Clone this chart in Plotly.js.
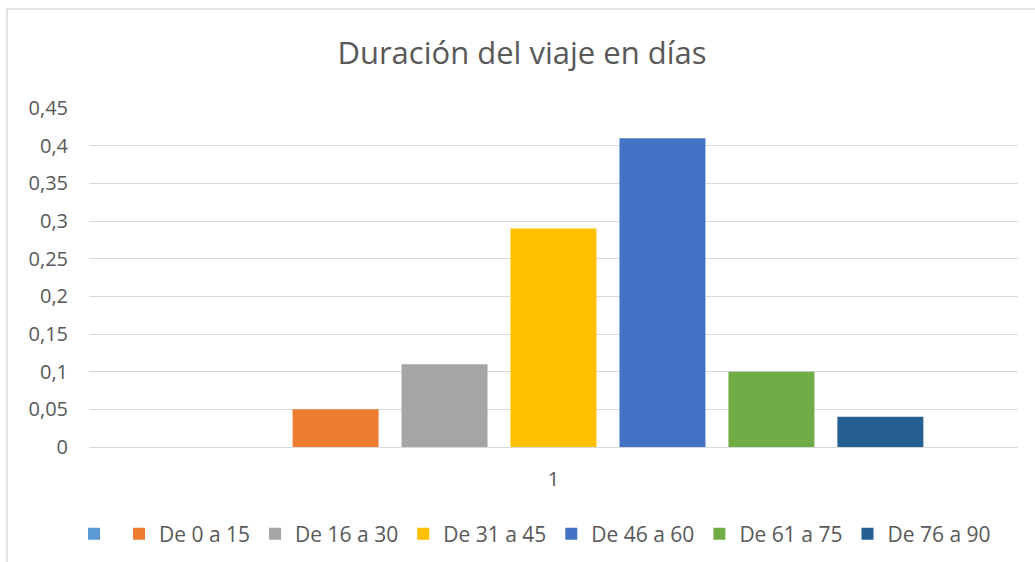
<!DOCTYPE html>
<html>
<head>
<meta charset="utf-8">
<script src="https://cdn.plot.ly/plotly-3.0.1.min.js"></script>
<style>html,body{margin:0;padding:0;background:#fff;}#chart{width:1035px;height:562px;}</style>
</head>
<body>
<div id="chart"></div>
<script>
const categories = ["1"];
const seriesNames = ["", "De 0 a 15", "De 16 a 30", "De 31 a 45", "De 46 a 60", "De 61 a 75", "De 76 a 90"];
const seriesValues = [0, 0.05, 0.11, 0.29, 0.41, 0.10, 0.04];
const seriesColors = ["#5B9BD5", "#ED7D31", "#A5A5A5", "#FFC000", "#4472C4", "#70AD47", "#255E91"];
const yTicks = [0, 0.05, 0.1, 0.15, 0.2, 0.25, 0.3, 0.35, 0.4, 0.45];

const FONT = "Open Sans, sans-serif";
const TXT = "#595959";

const traces = seriesNames.map((n, i) => ({
  type: "bar",
  name: n,
  x: categories,
  y: [seriesValues[i]],
  marker: {color: seriesColors[i], line: {width: 0}},
  showlegend: true
}));

const L = 89, R = 1018, T = 108, B = 447, W = 1035, H = 562;
const pw = R - L, ph = B - T;
const px = v => (v - L) / pw;
const py = v => (B - v) / ph;

const layout = {
  width: W, height: H,
  margin: {l: L, r: W - R, t: T, b: H - B, pad: 0, autoexpand: false},
  paper_bgcolor: "#ffffff",
  plot_bgcolor: "#ffffff",
  separators: ", ",
  font: {family: FONT, color: TXT, size: 20},
  title: {text: "Duración del viaje en días", font: {family: FONT, size: 31, color: TXT}, xref: "container", x: 522 / W, xanchor: "center", y: 1 - 53 / H, yanchor: "middle"},
  barmode: "group",
  bargap: 0.179,
  bargroupgap: 0.211,
  xaxis: {
    type: "category",
    range: [-0.5, 0.5],
    showgrid: false,
    zeroline: false,
    showline: false,
    ticks: "",
    ticklabelstandoff: 18,
    tickfont: {family: FONT, size: 20, color: TXT},
    fixedrange: true
  },
  yaxis: {
    range: [0, 0.45],
    tickvals: yTicks,
    showgrid: true,
    gridcolor: "#d9d9d9",
    gridwidth: 1,
    zeroline: true,
    zerolinecolor: "#d9d9d9",
    zerolinewidth: 1,
    showline: false,
    ticks: "",
    ticklabelstandoff: 20,
    tickfont: {family: FONT, size: 20, color: TXT},
    fixedrange: true
  },
  legend: {
    orientation: "h",
    x: px(74),
    xanchor: "left",
    y: py(534),
    yanchor: "middle",
    font: {family: FONT, size: 21, color: TXT},
    bgcolor: "rgba(0,0,0,0)",
    traceorder: "normal"
  },
  shapes: [{
    type: "rect", xref: "paper", yref: "paper",
    x0: px(7), x1: px(1045), y0: py(575), y1: py(9),
    line: {color: "#d9d9d9", width: 1.5}, fillcolor: "rgba(0,0,0,0)", layer: "below"
  }]
};

Plotly.newPlot("chart", traces, layout, {displayModeBar: false, staticPlot: true});
</script>
</body>
</html>
